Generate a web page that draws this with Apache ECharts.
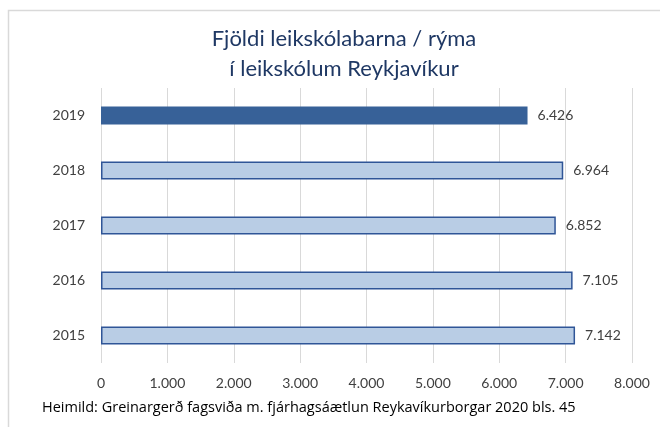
<!DOCTYPE html>
<html>
<head>
<meta charset="utf-8">
<script src="https://cdn.jsdelivr.net/npm/echarts@6/dist/echarts.min.js"></script>
<style>
  html, body { margin: 0; padding: 0; background: #fff; }
  #chart { width: 660px; height: 427px; }
</style>
</head>
<body>
<div id="chart"></div>
<script>
// data
const years = ['2015', '2016', '2017', '2018', '2019'];
const children = [7142, 7105, 6852, 6964, 6426];
const highlightYear = '2019';

const fmt = v => String(v).replace(/\B(?=(\d{3})+(?!\d))/g, '.');

let chartDom = document.getElementById('chart');
let myChart = echarts.init(chartDom);
let option;

option = {
  backgroundColor: '#fff',
  textStyle: { fontFamily: 'Lato' },
  title: {
    text: 'Fjöldi leikskólabarna / rýma\ní leikskólum Reykjavíkur',
    left: 339,
    top: 19,
    textAlign: 'center',
    textStyle: {
      color: '#1f3864',
      fontSize: 22,
      fontWeight: 'normal',
      lineHeight: 30,
      fontFamily: 'Lato'
    }
  },
  graphic: [
    {
      type: 'rect',
      shape: { x: 8.5, y: 10.5, width: 700, height: 460 },
      style: { fill: 'none', stroke: '#d9d9d9', lineWidth: 1.5 },
      silent: true
    },
    {
      type: 'text',
      left: 42,
      top: 400,
      style: {
        text: 'Heimild: Greinargerð fagsviða m. fjárhagsáætlun Reykavíkurborgar 2020 bls. 45',
        fill: '#000',
        fontSize: 14.5,
        fontFamily: 'Open Sans'
      }
    }
  ],
  grid: {
    left: 101,
    right: 28,
    top: 88,
    bottom: 64
  },
  xAxis: {
    type: 'value',
    min: 0,
    max: 8000,
    interval: 1000,
    axisLine: { show: false },
    axisTick: { show: false },
    splitLine: { lineStyle: { color: '#d9d9d9', width: 1 } },
    axisLabel: {
      color: '#404040',
      fontSize: 14,
      margin: 13,
      formatter: v => fmt(v)
    }
  },
  yAxis: {
    type: 'category',
    data: years,
    axisLine: { show: false },
    axisTick: { show: false },
    axisLabel: { color: '#404040', fontSize: 14, margin: 16 }
  },
  series: [
    {
      type: 'bar',
      barWidth: 18,
      data: children.map((v, i) => ({
        value: v,
        itemStyle: years[i] === highlightYear
          ? { color: '#376198', borderColor: '#376198', borderWidth: 0 }
          : { color: '#b9cde5', borderColor: '#2f5597', borderWidth: 1.5 }
      })),
      label: {
        show: true,
        position: 'right',
        distance: 10,
        color: '#404040',
        fontSize: 14,
        formatter: p => fmt(p.value)
      }
    }
  ]
};
myChart.setOption(option);
</script>
</body>
</html>
